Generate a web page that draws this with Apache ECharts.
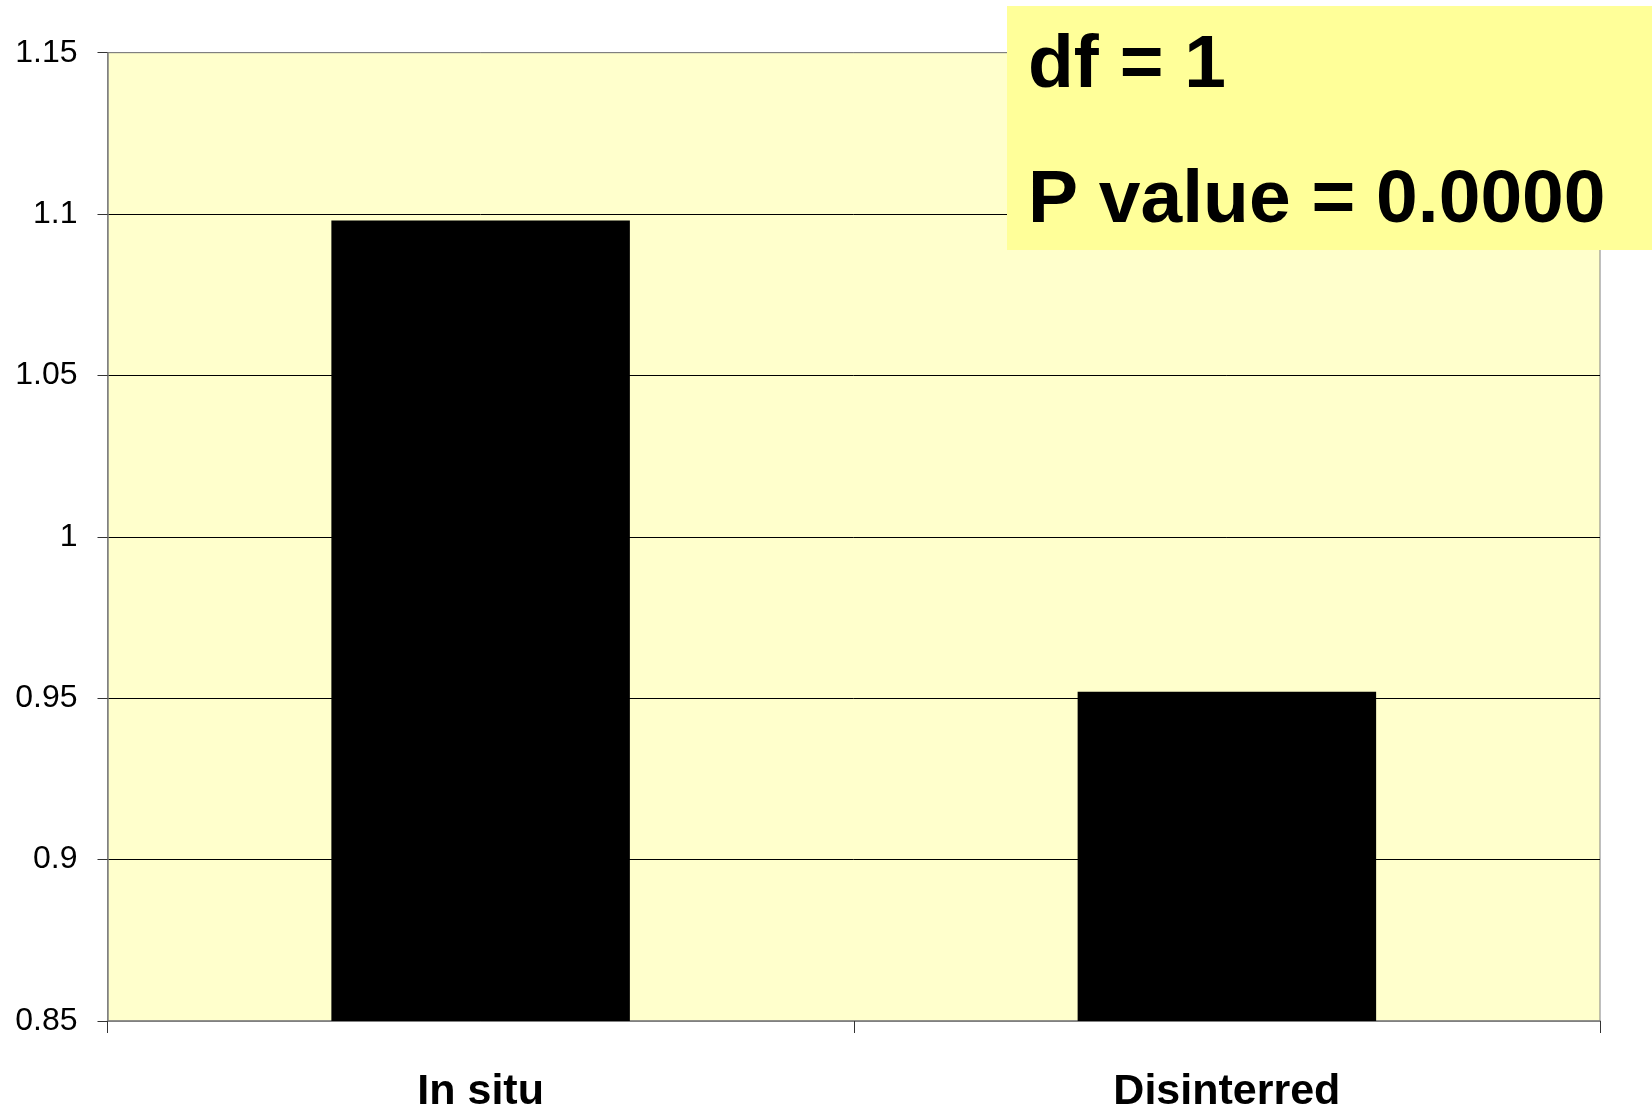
<!DOCTYPE html>
<html>
<head>
<meta charset="utf-8">
<script src="https://cdn.jsdelivr.net/npm/echarts@6/dist/echarts.min.js"></script>
<style>
html,body{margin:0;padding:0;background:#fff;}
#chart{width:1652px;height:1110px;}
</style>
</head>
<body>
<div id="chart"></div>
<script>
const categories = ['In situ', 'Disinterred'];
const values = [1.098, 0.952];
const yMin = 0.85, yMax = 1.15, yStep = 0.05;
const statLines = ['df = 1', 'P value = 0.0000'];

const chart = echarts.init(document.getElementById('chart'));
chart.setOption({
  animation: false,
  backgroundColor: '#ffffff',
  grid: {
    left: 107.5, right: 52, top: 52.7, bottom: 89,
    outerBoundsMode: 'none', containLabel: false,
    show: true, backgroundColor: '#FFFFCC', borderColor: '#808080', borderWidth: 1
  },
  xAxis: {
    type: 'category',
    data: categories,
    axisLine: { lineStyle: { color: '#808080', width: 1.5 } },
    axisTick: { show: true, length: 12, alignWithLabel: false, lineStyle: { color: '#333' } },
    axisLabel: {
      color: '#000', fontFamily: 'Liberation Sans, Arial', fontWeight: 'bold', fontSize: 43, margin: 50
    }
  },
  yAxis: {
    type: 'value',
    min: yMin, max: yMax, interval: yStep,
    axisLine: { show: true, lineStyle: { color: '#808080', width: 1.5 } },
    axisTick: { show: true, length: 10, lineStyle: { color: '#333' } },
    axisLabel: {
      color: '#000', fontFamily: 'Liberation Sans, Arial', fontSize: 32, margin: 30,
      formatter: v => String(parseFloat(v.toFixed(2)))
    },
    splitLine: {
      show: true,
      lineStyle: { color: ['#808080', '#000', '#000', '#000', '#000', '#000', '#808080'], width: 1 }
    }
  },
  series: [{
    type: 'bar',
    data: values,
    barWidth: '40%',
    itemStyle: { color: '#000000' }
  }],
  graphic: [
    {
      type: 'rect',
      left: 1007, top: 6,
      shape: { width: 645, height: 244 },
      style: { fill: '#FFFF99' },
      z: 100
    },
    {
      type: 'text',
      left: 1028, top: 29,
      style: { text: statLines[0], fill: '#000', font: 'bold 75px "Liberation Sans", Arial' },
      z: 101
    },
    {
      type: 'text',
      left: 1028, top: 164,
      style: { text: statLines[1], fill: '#000', font: 'bold 75px "Liberation Sans", Arial' },
      z: 101
    }
  ]
});
</script>
</body>
</html>
